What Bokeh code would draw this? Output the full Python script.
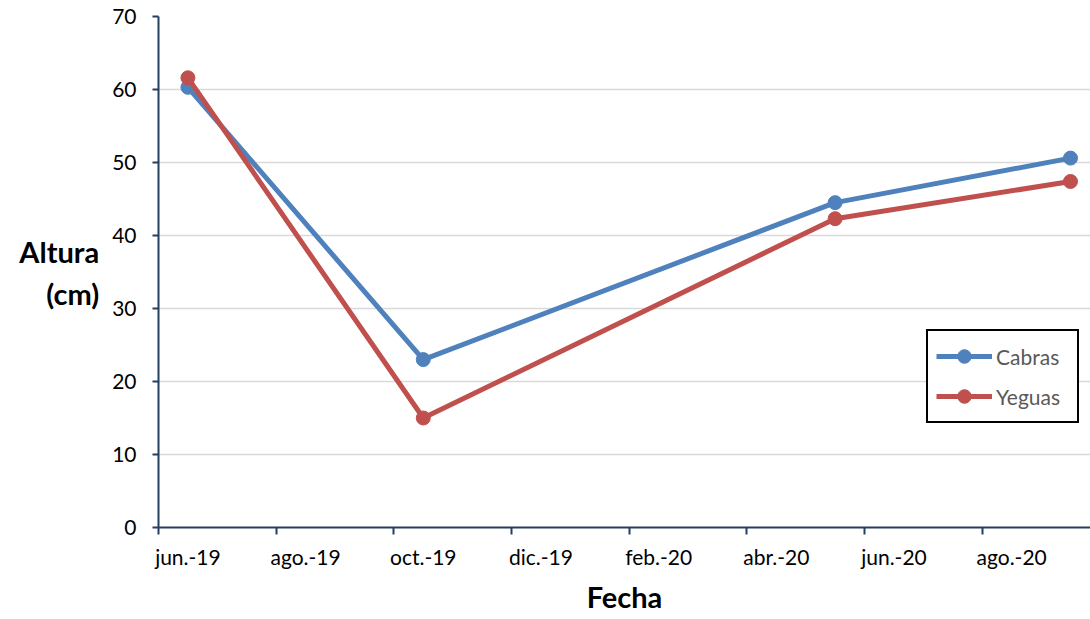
from bokeh.plotting import figure
from bokeh.models import Range1d, FixedTicker, Legend, LegendItem, ColumnDataSource
from bokeh.embed import file_html
from bokeh.resources import INLINE

# x axis tick labels (every two months, starting at jun.-19)
month_labels = ["jun.-19", "ago.-19", "oct.-19", "dic.-19",
                "feb.-20", "abr.-20", "jun.-20", "ago.-20"]
# sampling dates, as months counted from jun.-19
sample_names = ["jun.-19", "oct.-19", "may.-20", "sep.-20"]
sample_month = [0, 4, 11, 15]
cabras = [60.3, 23.0, 44.5, 50.6]
yeguas = [61.6, 15.0, 42.3, 47.4]

FONT = "Lato"
AXIS_COLOR = "#243f60"
BLUE = "#4f81bd"
RED = "#c0504d"

# Excel date axis: a point sits in the middle of its month slot
x_pos = [m + 0.5 for m in sample_month]
src = ColumnDataSource(dict(x=x_pos, fecha=sample_names, cabras=cabras, yeguas=yeguas))

p = figure(width=1090, height=616, output_backend="svg", toolbar_location=None,
           x_range=Range1d(0, 15.84), y_range=Range1d(0, 70),
           min_border_left=158, min_border_right=0, min_border_top=16,
           min_border_bottom=86)
p.outline_line_color = None
p.background_fill_color = "white"
p.border_fill_color = "white"

# grid
p.xgrid.grid_line_color = None
p.ygrid.grid_line_color = "#d9d9d9"
p.ygrid.grid_line_width = 1.5

# y axis
ya = p.yaxis[0]
ya.ticker = FixedTicker(ticks=list(range(0, 71, 10)))
ya.axis_line_color = AXIS_COLOR
ya.axis_line_width = 2
ya.major_tick_line_color = AXIS_COLOR
ya.major_tick_line_width = 2
ya.major_tick_out = 6
ya.major_tick_in = 0
ya.minor_tick_line_color = None
ya.major_label_text_font = FONT
ya.major_label_text_font_size = "21px"
ya.major_label_text_color = "black"
ya.major_label_standoff = 16
ya.axis_label = "Altura\n(cm)"
ya.axis_label_text_font = FONT
ya.axis_label_text_font_style = "bold"
ya.axis_label_text_font_size = "29px"
ya.axis_label_text_color = "black"
ya.axis_label_standoff = 10
if "axis_label_orientation" in ya.properties():
    ya.axis_label_orientation = "horizontal"

# x axis
xa = p.xaxis[0]
label_pos = [0.5 + 2 * i for i in range(len(month_labels))]
xa.ticker = FixedTicker(ticks=label_pos, minor_ticks=[2 * i for i in range(len(month_labels))])
xa.major_label_overrides = {pos: lab for pos, lab in zip(label_pos, month_labels)}
xa.axis_line_color = AXIS_COLOR
xa.axis_line_width = 2
xa.major_tick_line_color = None
xa.major_tick_out = 7
xa.major_tick_in = 0
xa.minor_tick_line_color = AXIS_COLOR
xa.minor_tick_line_width = 2
xa.minor_tick_out = 7
xa.minor_tick_in = 0
xa.major_label_text_font = FONT
xa.major_label_text_font_size = "21px"
xa.major_label_text_color = "black"
xa.major_label_standoff = 9
xa.axis_label = "Fecha"
xa.axis_label_text_font = FONT
xa.axis_label_text_font_style = "bold"
xa.axis_label_text_font_size = "29px"
xa.axis_label_text_color = "black"
xa.axis_label_standoff = 7

# series
l1 = p.line("x", "cabras", source=src, line_color=BLUE, line_width=5)
s1 = p.scatter("x", "cabras", source=src, size=14, fill_color=BLUE, line_color=BLUE)
l2 = p.line("x", "yeguas", source=src, line_color=RED, line_width=5)
s2 = p.scatter("x", "yeguas", source=src, size=14, fill_color=RED, line_color=RED)

legend = Legend(items=[LegendItem(label="Cabras", renderers=[l1, s1]),
                       LegendItem(label="Yeguas", renderers=[l2, s2])],
                location=(768, 104), orientation="vertical",
                border_line_color="black", border_line_width=2, border_line_alpha=1.0,
                background_fill_color="white", background_fill_alpha=1.0,
                padding=8, spacing=6, margin=0,
                glyph_width=56, glyph_height=34, label_height=34, label_width=73,
                label_standoff=4,
                label_text_font=FONT, label_text_font_size="21px",
                label_text_color="#595959")
p.add_layout(legend, "center")

open("out.html", "w").write(file_html(p, INLINE))
